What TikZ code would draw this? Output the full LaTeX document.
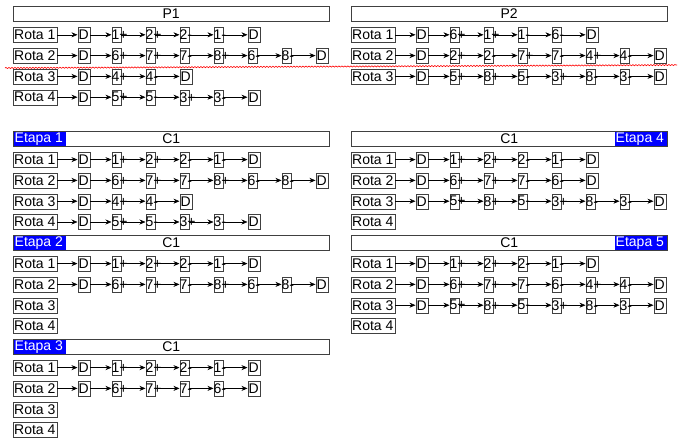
\documentclass[tikz,border=0pt]{standalone}
\usepackage{fontspec}
\setmainfont{Liberation Sans}
\usetikzlibrary{arrows.meta,decorations.pathmorphing}

\definecolor{borda}{gray}{0.25}
\definecolor{azuletapa}{RGB}{0,0,255}

% caixa de largura fixa, texto encostado a esquerda
\newcommand\esq[3][1pt]{\makebox[#2][l]{\hspace{#1}#3}}
\def\letraD{D}

% #1 desvio x, #2 linha, #3 nome, #4 numero da rota, #5 paragens
\newcommand\fazrota[5]{%
        \node[rota] (#3) at ({13+#1},{14+20.8*#2}) {\esq{44pt}{Rota #4}};
        \foreach \s [count=\k, remember=\k as \j (initially 0)] in {#5} {
            \ifnum\k=1 \edef\ant{#3}\else\edef\ant{#3-\j}\fi
            \edef\cur{\s}%
            \ifx\cur\letraD \def\larg{12pt}\def\desv{1pt}\else\def\larg{9.5pt}\def\desv{0pt}\fi
            \node[paragem] (#3-\k) at ({77.5+#1+34*(\k-1)},{14+20.8*#2}) {\esq[\desv]{\larg}{\s}};
            \draw[lig] (\ant) -- (#3-\k);
        }
}
\newcommand\rotavazia[4]{%
        \node[rota] (#3) at ({13+#1},{14+20.8*#2}) {\esq{44pt}{Rota #4}};
}

\tikzset{
    texto/.style={font=\fontsize{14}{16}\selectfont},
    rota/.style={texto, draw=borda, fill=white, inner sep=0pt, minimum height=15pt, anchor=west},
    paragem/.style={rota},
    cab/.style={texto, draw=borda, fill=white, inner sep=0pt, minimum width=316pt, minimum height=15pt, anchor=west},
    etapa/.style={texto, fill=azuletapa, text=white, inner sep=0pt, minimum width=52pt, minimum height=14pt},
    lig/.style={draw=black, line width=0.6pt, -{Stealth[length=6pt,width=5pt]}},
    ondulado/.style={red, line width=0.6pt, decorate, decoration={snake, segment length=3pt, amplitude=0.6pt}}
}

\begin{document}
\begin{tikzpicture}[x=1pt,y=-1pt]
        \useasboundingbox (0,0) rectangle (685,442);

        % P1
        \node[cab] (p1) at (13,14) {P1};
        \fazrota{0}{1}{p1r1}{1}{D,1+,2+,2-,1-,D}
        \fazrota{0}{2}{p1r2}{2}{D,6+,7+,7-,8+,6-,8-,D}
        \fazrota{0}{3}{p1r3}{3}{D,4+,4-,D}
        \fazrota{0}{4}{p1r4}{4}{D,5+,5-,3+,3-,D}

        % P2
        \node[cab] (p2) at (351,14) {P2};
        \fazrota{338}{1}{p2r1}{1}{D,6+,1+,1-,6-,D}
        \fazrota{338}{2}{p2r2}{2}{D,2+,2-,7+,7-,4+,4-,D}
        \fazrota{338}{3}{p2r3}{3}{D,5+,8+,5-,3+,8-,3-,D}

        \draw[ondulado] (5,68) -- (677,65);

        % Etapa 1
        \node[cab] (c1a) at (13,{14+20.8*6}) {C1};
        \node[etapa, anchor=west] (e1) at ([xshift=0.5pt]c1a.west) {\esq{52pt}{Etapa 1}};
        \fazrota{0}{7}{e1r1}{1}{D,1+,2+,2-,1-,D}
        \fazrota{0}{8}{e1r2}{2}{D,6+,7+,7-,8+,6-,8-,D}
        \fazrota{0}{9}{e1r3}{3}{D,4+,4-,D}
        \fazrota{0}{10}{e1r4}{4}{D,5+,5-,3+,3-,D}

        % Etapa 4
        \node[cab] (c1d) at (351,{14+20.8*6}) {C1};
        \node[etapa, anchor=east] (e4) at ([xshift=-0.5pt]c1d.east) {\esq{52pt}{Etapa 4}};
        \fazrota{338}{7}{e4r1}{1}{D,1+,2+,2-,1-,D}
        \fazrota{338}{8}{e4r2}{2}{D,6+,7+,7-,6-,D}
        \fazrota{338}{9}{e4r3}{3}{D,5+,8+,5-,3+,8-,3-,D}
        \rotavazia{338}{10}{e4r4}{4}

        % Etapa 2
        \node[cab] (c1b) at (13,{14+20.8*11}) {C1};
        \node[etapa, anchor=west] (e2) at ([xshift=0.5pt]c1b.west) {\esq{52pt}{Etapa 2}};
        \fazrota{0}{12}{e2r1}{1}{D,1+,2+,2-,1-,D}
        \fazrota{0}{13}{e2r2}{2}{D,6+,7+,7-,8+,6-,8-,D}
        \rotavazia{0}{14}{e2r3}{3}
        \rotavazia{0}{15}{e2r4}{4}

        % Etapa 5
        \node[cab] (c1e) at (351,{14+20.8*11}) {C1};
        \node[etapa, anchor=east] (e5) at ([xshift=-0.5pt]c1e.east) {\esq{52pt}{Etapa 5}};
        \fazrota{338}{12}{e5r1}{1}{D,1+,2+,2-,1-,D}
        \fazrota{338}{13}{e5r2}{2}{D,6+,7+,7-,6-,4+,4-,D}
        \fazrota{338}{14}{e5r3}{3}{D,5+,8+,5-,3+,8-,3-,D}
        \rotavazia{338}{15}{e5r4}{4}

        % Etapa 3
        \node[cab] (c1c) at (13,{14+20.8*16}) {C1};
        \node[etapa, anchor=west] (e3) at ([xshift=0.5pt]c1c.west) {\esq{52pt}{Etapa 3}};
        \fazrota{0}{17}{e3r1}{1}{D,1+,2+,2-,1-,D}
        \fazrota{0}{18}{e3r2}{2}{D,6+,7+,7-,6-,D}
        \rotavazia{0}{19}{e3r3}{3}
        \rotavazia{0}{20}{e3r4}{4}
\end{tikzpicture}
\end{document}
